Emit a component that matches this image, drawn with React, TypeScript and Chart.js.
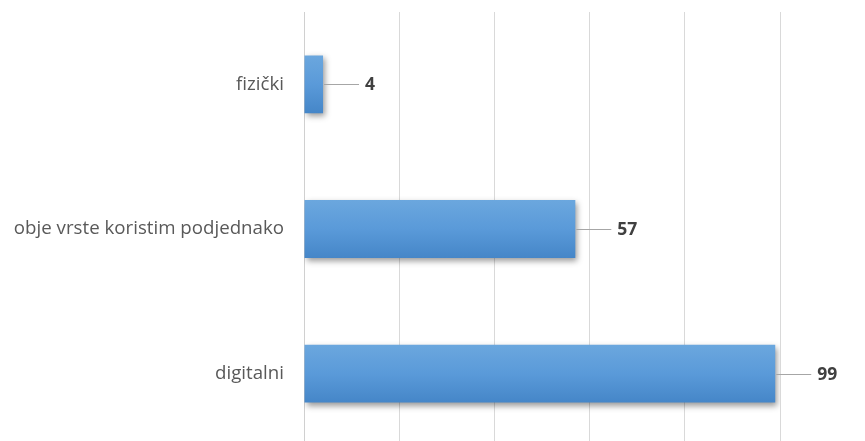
import React, { useEffect, useRef } from "react";
import { Chart, registerables } from "chart.js";

Chart.register(...registerables);

const categories = ["fizički", "obje vrste koristim podjednako", "digitalni"];
const values = [4, 57, 99];
const xTicks = [0, 20, 40, 60, 80, 100];

const FONT = "'Open Sans', 'Liberation Sans', sans-serif";

const shadowPlugin = {
  id: "barShadow",
  beforeDatasetsDraw(chart: any) {
    const ctx = chart.ctx;
    ctx.save();
    ctx.shadowColor = "rgba(0,0,0,0.4)";
    ctx.shadowBlur = 6;
    ctx.shadowOffsetX = 2;
    ctx.shadowOffsetY = 3;
  },
  afterDatasetsDraw(chart: any) {
    chart.ctx.restore();
  },
};

const labelPlugin = {
  id: "leaderLabels",
  afterDatasetsDraw(chart: any) {
    const ctx = chart.ctx;
    const meta = chart.getDatasetMeta(0);
    ctx.save();
    meta.data.forEach((bar: any, i: number) => {
      const x0 = bar.x + 1;
      const x1 = x0 + 35;
      const y = bar.y;
      ctx.strokeStyle = "#a6a6a6";
      ctx.lineWidth = 1;
      ctx.beginPath();
      ctx.moveTo(x0, Math.round(y) + 0.5);
      ctx.lineTo(x1, Math.round(y) + 0.5);
      ctx.stroke();
      ctx.fillStyle = "#404040";
      ctx.font = `bold 17.5px ${FONT}`;
      ctx.textAlign = "left";
      ctx.textBaseline = "middle";
      ctx.fillText(String(values[i]), x1 + 6, y + 1);
    });
    ctx.restore();
  },
};

export default function App() {
  const ref = useRef<HTMLCanvasElement | null>(null);
  useEffect(() => {
    document.body.style.margin = "0";
    document.body.style.overflow = "hidden";
    const chart = new Chart(ref.current as HTMLCanvasElement, {
      type: "bar",
      data: {
        labels: categories,
        datasets: [
          {
            data: values,
            barPercentage: 0.4,
            categoryPercentage: 1,
            borderWidth: 0,
            backgroundColor: (c: any) => {
              const ch = c.chart;
              const ys = ch.scales && ch.scales.y;
              if (!ch.chartArea || !ys) return "#5b9bd5";
              const cy = ys.getPixelForValue(c.dataIndex);
              if (!isFinite(cy)) return "#5b9bd5";
              const h = 58;
              const g = ch.ctx.createLinearGradient(0, cy - h / 2, 0, cy + h / 2);
              g.addColorStop(0, "#6ba7de");
              g.addColorStop(0.5, "#5a9ad9");
              g.addColorStop(1, "#4586c8");
              return g;
            },
          },
        ],
      },
      options: {
        indexAxis: "y",
        animation: false,
        responsive: false,
        maintainAspectRatio: false,
        layout: { padding: { top: 12, right: 85, bottom: 0, left: 0 } },
        plugins: { legend: { display: false }, tooltip: { enabled: false } },
        scales: {
          x: {
            min: 0,
            max: 100,
            afterBuildTicks: (s: any) => {
              s.ticks = xTicks.map((v) => ({ value: v }));
            },
            afterFit: (s: any) => {
              s.height = 0;
              s.paddingLeft = 0;
              s.paddingRight = 0;
            },
            ticks: { display: false },
            grid: { color: "#d9d9d9", drawTicks: false, lineWidth: 1 },
            border: { display: false },
          },
          y: {
            afterFit: (s: any) => {
              s.width = 304;
              s.paddingTop = 0;
              s.paddingBottom = 0;
            },
            ticks: {
              padding: 20,
              color: "#595959",
              font: { family: FONT, size: 18.7 },
            },
            grid: { display: false, drawTicks: false },
            border: { display: true, color: "#d0d0d0", width: 1 },
          },
        },
      },
      plugins: [shadowPlugin, labelPlugin],
    });
    return () => chart.destroy();
  }, []);
  return (
    <div style={{ position: "fixed", left: 0, top: 0, width: 865, height: 441, overflow: "hidden", background: "#fff" }}>
      <canvas ref={ref} width={865} height={446} style={{ width: 865, height: 446, display: "block" }} />
    </div>
  );
}
